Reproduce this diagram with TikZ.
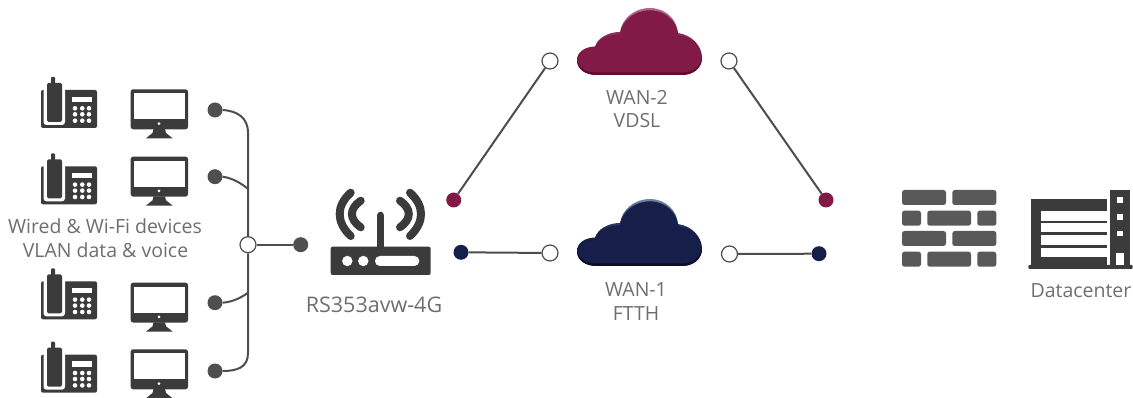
\documentclass[tikz,border=0pt]{standalone}
\usepackage{fontspec}
\setmainfont{Open Sans}
\definecolor{icon}{HTML}{3B3B3B}
\definecolor{wirec}{HTML}{4D4D4D}
\definecolor{dotc}{HTML}{4F4F4F}
\definecolor{brick}{HTML}{595959}
\definecolor{lab}{HTML}{6E6E6E}
\definecolor{redm}{HTML}{821A47}
\definecolor{redd}{HTML}{5C0E30}
\definecolor{redr}{HTML}{B26A8C}
\definecolor{navm}{HTML}{161E4A}
\definecolor{navd}{HTML}{0A0E26}
\definecolor{navr}{HTML}{6F86A6}
\newcommand{\cloudpath}{(597,75) .. controls (585,75) and (577,69) .. (577,60) .. controls (577,52) and (585,46.7) .. (595,46.5) .. controls (598,38) and (608,32) .. (620,32) .. controls (622,19) and (634,8) .. (650,8) .. controls (666,8) and (677,20) .. (678,33) .. controls (692,35) and (702,46) .. (702,58) .. controls (702,68) and (693,75) .. (682,75) -- cycle}
\newcommand{\drawcloud}[4]{%
 \begin{scope}[yshift=#1]
  \shade[top color=#4,bottom color=#2,middle color=#2] \cloudpath;
  \begin{scope}
   \clip[yshift=-2.5pt] \cloudpath;
   \fill[#3] \cloudpath;
   \fill[#2,yshift=2.5pt] \cloudpath;
  \end{scope}
 \end{scope}}
\tikzset{
 x=1pt,y=-1pt,
 wire/.style={draw=wirec,line width=2pt},
 soliddot/.style={circle,fill=dotc,draw=none,minimum size=15pt,inner sep=0pt},
 reddot/.style={circle,fill=redm,draw=none,minimum size=15pt,inner sep=0pt},
 navdot/.style={circle,fill=navm,draw=none,minimum size=15pt,inner sep=0pt},
 opendot/.style={circle,fill=white,draw=wirec,line width=1.2pt,minimum size=16pt,inner sep=0pt},
 label/.style={text=lab,font=\fontsize{19.5}{22}\selectfont,inner sep=0pt,anchor=center},
 brk/.style={fill=brick,rounded corners=2.5pt},
 radio/.style={draw=icon,line width=8pt,line cap=round},
 phone/.pic={
  \fill[icon,rounded corners=2pt] (41,90) rectangle (97,128);
  \fill[white,rounded corners=3pt] (43.5,80) rectangle (65,125);
  \fill[icon,rounded corners=1.5pt] (47,83) rectangle (62,122);
  \fill[icon,rounded corners=1pt] (51,77) rectangle (55,84);
  \fill[white] (71.7,96.7) rectangle (91.7,102);
  \foreach \px in {75,82.3,89} \foreach \py in {108.3,114.3,120.7}
   \fill[white] (\px,\py) circle (2.3);
 },
 monitor/.pic={
  \fill[icon,rounded corners=2.5pt] (130.7,89.3) rectangle (188,129.3);
  \fill[white] (134,93.3) rectangle (185,119.3);
  \fill[white] (159,123.6) circle (1.5);
  \fill[icon] (153.5,129) -- (165,129) -- (166,133) -- (172.7,138.3) -- (146,138.3) -- (152.5,133) -- cycle;
 }
}
\begin{document}
\begin{tikzpicture}
\useasboundingbox (0,0) rectangle (1133,398);
% devices
\pic at (0,0) {phone};
\pic at (0,76.3) {phone};
\pic at (0,191.3) {phone};
\pic at (0,264.7) {phone};
\pic at (0,0) {monitor};
\pic at (0,67.3) {monitor};
\pic at (0,193.3) {monitor};
\pic at (0,260) {monitor};
\node[label] (devs1) at (105,226.5) {Wired \& Wi-Fi devices};
\node[label] (devs2) at (105.5,250) {VLAN data \& voice};
% bus
\node[soliddot] (d1) at (215,110) {};
\node[soliddot] (d2) at (215,176.7) {};
\node[soliddot] (d3) at (215,302.7) {};
\node[soliddot] (d4) at (215,371) {};
\node[opendot] (hub) at (248,244.7) {};
\node[soliddot] (out) at (300.7,244.7) {};
\coordinate (j2) at (248,189);
\coordinate (j3) at (248,292.7);
\draw[wire] (d1.east) .. controls (238,111) and (248,118) .. (248,133) -- (hub.north);
\draw[wire] (hub.south) -- (248,353) .. controls (248,367) and (238,371) .. (d4.east);
\draw[wire] (d2.east) .. controls (232,178) and (241,183) .. (j2);
\draw[wire] (d3.east) .. controls (232,302) and (241,298) .. (j3);
\draw[wire] (hub) -- (out);
% router
\fill[icon,rounded corners=2pt] (330.7,246.7) rectangle (430.7,275);
\draw[icon,line width=7.6pt,line cap=round] (380.5,215.5) -- (380.5,248);
\fill[white] (347.3,261) circle (5.2);
\fill[white] (363.3,261) circle (5.2);
\fill[white,rounded corners=4.9pt] (375,256) rectangle (419.3,266);
\draw[radio] (350.7,192.7) .. controls (336,206) and (336,222) .. (350.7,236);
\draw[radio] (360.7,200.7) .. controls (349,209) and (349,219) .. (360.7,227.3);
\draw[radio] (410,192.7) .. controls (424.7,206) and (424.7,222) .. (410,236);
\draw[radio] (400,200.7) .. controls (411.7,209) and (411.7,219) .. (400,227.3);
\node[label,font=\fontsize{21.5}{24}\selectfont] (rlab) at (374,305) {RS353avw-4G};
% WAN connectors
\node[reddot] (r1) at (453.7,200) {};
\node[navdot] (n1) at (461,252.3) {};
\node[opendot] (o1) at (550,61) {};
\node[opendot] (o2) at (550,253) {};
\node[opendot] (o3) at (729,61) {};
\node[opendot] (o4) at (729.5,254) {};
\node[reddot] (r2) at (826,200) {};
\node[navdot] (n2) at (819,253.7) {};
\draw[wire] (r1) -- (o1);
\draw[wire] (n1) -- (o2);
\draw[wire] (o3) -- (r2);
\draw[wire] (o4) -- (n2);
% clouds
\drawcloud{0pt}{redm}{redd}{redr}
\drawcloud{-191pt}{navm}{navd}{navr}
\node[label] (w2a) at (637,97) {WAN-2};
\node[label] (w2b) at (637,121) {VDSL};
\node[label] (w1a) at (636,290) {WAN-1};
\node[label] (w1b) at (636,314) {FTTH};
% wall
\foreach \wy in {190,231} {
 \fill[brk] (902,\wy) rectangle (946,\wy+15);
 \fill[brk] (952.3,\wy) rectangle (996.3,\wy+15);
}
\foreach \wy in {210.7,251.7} {
 \fill[brk] (902,\wy) rectangle (921,\wy+15);
 \fill[brk] (927.3,\wy) rectangle (971,\wy+15);
 \fill[brk] (977.3,\wy) rectangle (996.3,\wy+15);
}
% datacenter
\fill[icon] (1031.3,199.3) rectangle (1107.3,266);
\fill[icon] (1110,190) rectangle (1130,266);
\fill[icon,rounded corners=1pt] (1028.3,265) rectangle (1132.7,269);
\foreach \sy/\se in {211.3/220.7,223.3/232.3,235.3/244.7,247.7/257.3}
 \fill[white] (1040.7,\sy) rectangle (1107.3,\se);
\foreach \wc in {200,217,233.3}
 \fill[white] (1117.3,\wc-2.7) rectangle (1122.7,\wc+2.7);
\fill[white] (1116,253.3) rectangle (1124.3,265);
\node[label] (dc) at (1081,291) {Datacenter};
\end{tikzpicture}
\end{document}
